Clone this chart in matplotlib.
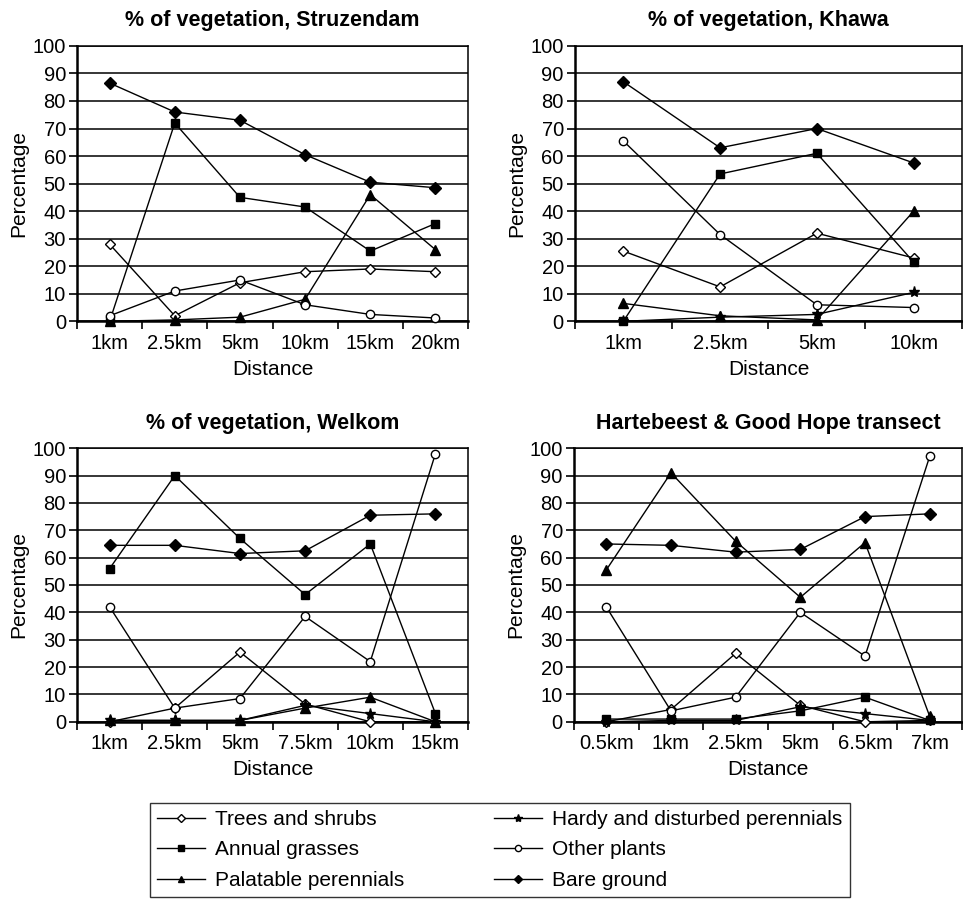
import matplotlib
matplotlib.use("Agg")
import matplotlib.pyplot as plt
from matplotlib.lines import Line2D
import numpy as np

plt.rcParams["font.family"] = ["Liberation Sans", "DejaVu Sans"]

SERIES = [
    "Trees and shrubs",
    "Annual grasses",
    "Palatable perennials",
    "Hardy and disturbed perennials",
    "Other plants",
    "Bare ground",
]

# Struzendam
struz_dist = ["1km", "2.5km", "5km", "10km", "15km", "20km"]
struz_trees = [28, 2, 14, 18, 19, 18]
struz_annual = [0, 72, 45, 41.5, 25.5, 35.5]
struz_palatable = [0, 0.5, 1.5, 8, 46, 26]
struz_hardy = None
struz_other = [2, 11, 15, 6, 2.5, 1.2]
struz_bare = [86.5, 76, 73, 60.5, 50.5, 48.5]

# Khawa
khawa_dist = ["1km", "2.5km", "5km", "10km"]
khawa_trees = [25.5, 12.5, 32, 23]
khawa_annual = [0, 53.5, 61, 21.5]
khawa_palatable = [6.5, 2, 0.5, 40]
khawa_hardy = [0, 1.5, 2.5, 10.5]
khawa_other = [65.5, 31.5, 6, 5]
khawa_bare = [87, 63, 70, 57.5]

# Welkom
welkom_dist = ["1km", "2.5km", "5km", "7.5km", "10km", "15km"]
welkom_trees = [0, 5, 25.5, 6.5, 0, 0]
welkom_annual = [56, 90, 67, 46.5, 65, 3]
welkom_palatable = [0.5, 0.5, 0.5, 5, 9, 0]
welkom_hardy = [0.5, 0.5, 0.5, 6, 3, 0]
welkom_other = [42, 5, 8.5, 38.5, 22, 98]
welkom_bare = [64.5, 64.5, 61.5, 62.5, 75.5, 76]

# Hartebeest & Good Hope
harte_dist = ["0.5km", "1km", "2.5km", "5km", "6.5km", "7km"]
harte_trees = [0, 4.5, 25, 6, 0, 0.5]
harte_annual = [1, 1, 1, 4, 9, 0.5]
harte_palatable = [55.5, 91, 66, 45.5, 65.5, 2]
harte_hardy = [0, 0.5, 0.5, 5.5, 3, 0.5]
harte_other = [42, 4, 9, 40, 24, 97]
harte_bare = [65, 64.5, 62, 63, 75, 76]

STYLES = {
    "Trees and shrubs": dict(marker="D", mfc="white", ms=5.5),
    "Annual grasses": dict(marker="s", mfc="black", ms=6),
    "Palatable perennials": dict(marker="^", mfc="black", ms=6.5),
    "Hardy and disturbed perennials": dict(marker="*", mfc="black", ms=8),
    "Other plants": dict(marker="o", mfc="white", ms=6),
    "Bare ground": dict(marker="D", mfc="black", ms=6),
}

PANELS = [
    ("% of vegetation, Struzendam", struz_dist,
     [struz_trees, struz_annual, struz_palatable, struz_hardy, struz_other, struz_bare],
     [0.080, 0.643, 0.406, 0.306]),
    ("% of vegetation, Khawa", khawa_dist,
     [khawa_trees, khawa_annual, khawa_palatable, khawa_hardy, khawa_other, khawa_bare],
     [0.597, 0.643, 0.402, 0.306]),
    ("% of vegetation, Welkom", welkom_dist,
     [welkom_trees, welkom_annual, welkom_palatable, welkom_hardy, welkom_other, welkom_bare],
     [0.080, 0.198, 0.406, 0.304]),
    ("Hartebeest & Good Hope transect", harte_dist,
     [harte_trees, harte_annual, harte_palatable, harte_hardy, harte_other, harte_bare],
     [0.596, 0.198, 0.403, 0.304]),
]

fig = plt.figure(figsize=(9.63, 9.0), dpi=100)

for title, dist, values, rect in PANELS:
    ax = fig.add_axes(rect)
    x = np.arange(len(dist))
    for name, vals in zip(SERIES, values):
        if vals is None:
            continue
        st = STYLES[name]
        ax.plot(x, vals, color="black", lw=1.0, marker=st["marker"],
                mfc=st["mfc"], mec="black", mew=1.0, ms=st["ms"],
                clip_on=False, zorder=3)
    ax.set_xlim(-0.5, len(dist) - 0.5)
    ax.set_ylim(0, 100)
    ax.set_yticks(np.arange(0, 101, 10))
    ax.yaxis.grid(True, color="black", lw=1.1)
    ax.set_axisbelow(True)
    ax.set_xticks(x)
    ax.set_xticklabels(dist)
    ax.set_xticks(np.arange(-0.5, len(dist)), minor=True)
    ax.tick_params(axis="x", which="major", length=0, labelsize=14.5, pad=9)
    ax.tick_params(axis="x", which="minor", length=6, width=1.2, direction="out")
    ax.tick_params(axis="y", length=6, width=1.2, labelsize=14.5, pad=2)
    for side in ("left", "bottom"):
        ax.spines[side].set_linewidth(1.8)
    ax.spines["top"].set_linewidth(1.1)
    ax.spines["right"].set_linewidth(1.1)
    ax.set_title(title, fontsize=15.5, fontweight="bold", pad=14)
    ax.set_xlabel("Distance", fontsize=15, labelpad=5)
    ax.set_ylabel("Percentage", fontsize=15, labelpad=3)

handles = [
    Line2D([], [], color="black", lw=1.0, marker=STYLES[n]["marker"],
           mfc=STYLES[n]["mfc"], mec="black", ms=STYLES[n]["ms"] * 0.75)
    for n in SERIES
]
leg = fig.legend(handles, SERIES, loc="center", bbox_to_anchor=(0.519, 0.0556),
                 ncol=2, fontsize=15, frameon=True, fancybox=False,
                 edgecolor="black", handlelength=2.3, columnspacing=4.3,
                 labelspacing=0.55, borderpad=0.35, handletextpad=0.5,
                 borderaxespad=0)
leg.get_frame().set_linewidth(1.0)

fig.savefig("out.png", dpi=100)
